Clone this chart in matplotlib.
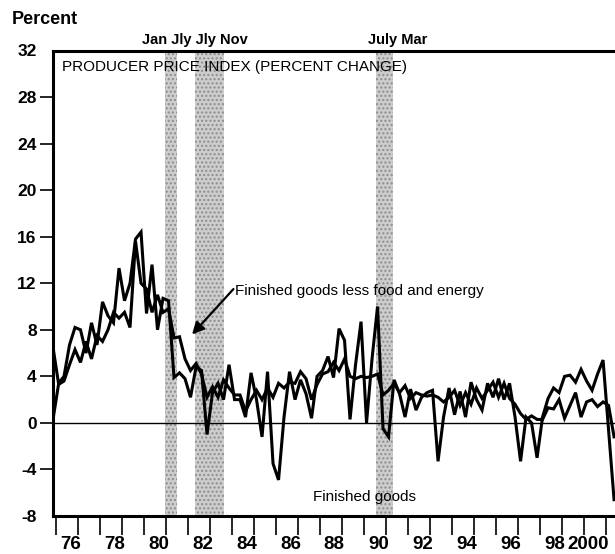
import numpy as np
import matplotlib
matplotlib.use("Agg")
import matplotlib.pyplot as plt
from matplotlib.transforms import ScaledTranslation

plt.rcParams['font.family'] = ['Liberation Sans', 'DejaVu Sans']
plt.rcParams['hatch.linewidth'] = 1.0

# quarterly observations, first one late 1974
first_quarter = 1974.85
finished = [6.5, 3.4, 4.0, 6.7, 8.2, 8.0, 6.0, 8.6, 6.7, 10.4,
            9.2, 8.6, 13.3, 10.5, 12.0, 15.8, 16.4, 9.4, 13.6, 8.0,
            10.7, 10.5, 3.9, 4.3, 3.8, 2.2, 4.8, 4.5, -1.0, 2.6,
            3.4, 2.0, 5.0, 2.0, 2.0, 0.5, 4.3, 2.0, -1.2, 4.4,
            -3.5, -4.9, 0.5, 4.4, 2.0, 3.7, 2.5, 0.4, 4.0, 4.5,
            5.7, 3.9, 8.1, 7.1, 0.3, 5.0, 8.7, 0.0, 5.5, 10.0,
            -0.5, -1.2, 3.7, 2.5, 0.5, 2.9, 1.1, 2.2, 2.6, 2.8,
            -3.3, 0.5, 3.0, 0.7, 2.7, 0.5, 3.5, 2.0, 1.1, 3.4,
            2.2, 3.8, 2.0, 3.4, 0.5, -3.3, 0.5, 0.0, -3.0, 0.5,
            2.1, 3.0, 2.6, 4.0, 4.1, 3.5, 4.6, 3.6, 2.8, 4.2,
            5.4, -0.6, -6.6]
core = [0.3, 3.3, 3.6, 5.0, 6.3, 5.2, 7.0, 5.5, 7.5, 7.0,
        8.0, 9.5, 9.0, 9.5, 8.2, 15.6, 12.0, 11.5, 9.5, 11.0,
        9.5, 9.8, 7.3, 7.4, 5.5, 4.5, 5.1, 4.2, 2.2, 3.1,
        2.2, 3.7, 3.0, 2.4, 2.4, 1.0, 2.0, 2.8, 2.0, 3.0,
        2.2, 3.4, 3.0, 3.5, 3.4, 4.4, 3.8, 2.0, 3.3, 4.2,
        4.4, 5.2, 4.5, 5.5, 4.0, 3.8, 4.0, 3.9, 4.0, 4.2,
        2.4, 2.8, 3.4, 2.6, 3.2, 2.1, 2.6, 2.4, 2.3, 2.4,
        2.2, 1.8, 2.2, 2.8, 1.5, 2.6, 1.6, 3.0, 2.1, 2.8,
        3.5, 2.2, 3.4, 2.1, 1.6, 0.8, 0.3, 0.6, 0.3, 0.3,
        1.3, 1.2, 2.0, 0.4, 1.5, 2.6, 0.5, 1.8, 2.0, 1.4,
        1.8, 1.5, -1.2]
dates = first_quarter + 0.25 * np.arange(len(finished))

recessions = [(1979.95, 1980.5), (1981.3, 1982.6), (1989.55, 1990.3)]
years = np.arange(1975, 2001)
year_labels = ['76', '78', '80', '82', '84', '86', '88', '90', '92', '94', '96', '98', '2000']
yticks = np.arange(-8, 33, 4)

fig = plt.figure(figsize=(6.15, 5.54), dpi=100)
ax = fig.add_axes([52.7 / 615, 38 / 554, 567.3 / 615, 465.5 / 554])

# stippled recession bands
for a, b in recessions:
    ax.axvspan(a, b, facecolor='#cdcdcd', edgecolor='#8c8c8c', hatch='....', lw=0, zorder=0)

ax.axhline(0, color='black', lw=1.0, zorder=1)
ax.plot(dates, finished, color='black', lw=2.2, zorder=3, solid_joinstyle='miter')
ax.plot(dates, core, color='black', lw=2.2, zorder=3, solid_joinstyle='miter')

ax.set_xlim(1974.836, 2000.62)
ax.set_ylim(-8, 32)

for s in ['left', 'top', 'bottom']:
    ax.spines[s].set_linewidth(2.2)
ax.spines['right'].set_visible(False)

ax.set_yticks(yticks)
ax.set_yticklabels([str(v) for v in yticks], fontsize=12.5, fontweight='bold')
ax.tick_params(axis='y', length=9.5, width=1.2, pad=2, direction='out')
yt = ax.yaxis.get_major_ticks()
yt[0].tick1line.set_visible(False)
yt[-1].tick1line.set_visible(False)

ax.set_xticks(years)
lbls = []
for y in years:
    s = str(y)[2:] if y < 2000 else str(y)
    lbls.append(s if s in year_labels else '')
ax.set_xticklabels(lbls, fontsize=13.5, fontweight='bold')
ax.tick_params(axis='x', length=13.5, width=1.2, pad=1, direction='out')
shift = ScaledTranslation(0.025, 0, fig.dpi_scale_trans)
for lbl in ax.get_xticklabels():
    lbl.set_horizontalalignment('right')
    lbl.set_transform(lbl.get_transform() + shift)

ax.text(0.016, 0.965, 'PRODUCER PRICE INDEX (PERCENT CHANGE)', transform=ax.transAxes,
        fontsize=11, va='center', ha='left')
ax.text(1983.12, 11.3, 'Finished goods less food and energy', fontsize=11, va='center', ha='left')
ax.annotate('', xy=(1981.17, 7.6), xytext=(1983.05, 11.5),
            arrowprops=dict(arrowstyle='-|>', color='black', lw=1.6, mutation_scale=18,
                            shrinkA=0, shrinkB=0))
ax.text(1989.03, -6.4, 'Finished goods', fontsize=11, va='center', ha='center')

fig.text(12 / 615, 1 - 20 / 554, 'Percent', fontsize=13, fontweight='bold', va='center', ha='left')
fig.text(195 / 615, 1 - 40 / 554, 'Jan Jly Jly Nov', fontsize=10.5, fontweight='bold',
         va='center', ha='center')
fig.text(398 / 615, 1 - 40 / 554, 'July Mar', fontsize=10.5, fontweight='bold',
         va='center', ha='center')

fig.savefig('out.png', dpi=100)
